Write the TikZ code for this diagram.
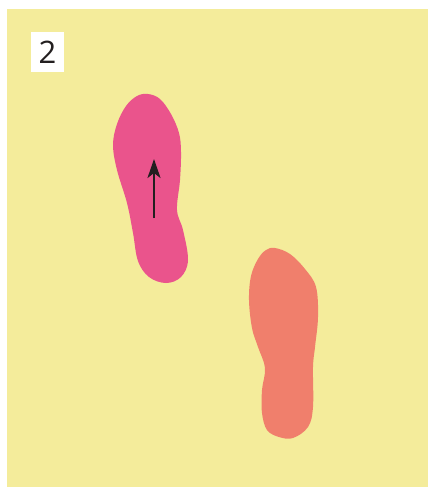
\documentclass[tikz,border=0pt]{standalone}
\usepackage{fontspec}
\setmainfont{Open Sans}
\usetikzlibrary{arrows.meta}
\definecolor{bgyellow}{HTML}{F4EC9B}
\definecolor{footpink}{HTML}{EA548C}
\definecolor{footsalmon}{HTML}{F07F6C}
\definecolor{arrowdark}{HTML}{231F20}
\tikzset{
  labelbox/.style={fill=white, minimum width=33pt, minimum height=40pt, inner sep=0pt, font=\fontsize{31}{31}\selectfont, text=arrowdark}
}
\begin{document}
\begin{tikzpicture}[x=1pt,y=1pt]
\useasboundingbox (0,0) rectangle (428,-488);
\fill[white] (0,0) rectangle (428,-488);
\fill[bgyellow] (7,-9) rectangle (428,-487);
\node[labelbox] (lab) at (47.5,-52) {2};
% left (pink) foot
\fill[footpink] plot[smooth cycle, tension=0.6] coordinates {
 (148,-94) (160,-99) (171,-114) (179,-133) (181,-152) (180,-180) (177,-210) (183,-230) (188,-260)
 (181,-277) (166,-283) (149,-277) (138,-261) (133,-233) (127,-203)
 (117,-170) (113,-145) (117,-124) (126,-106) (137,-96)};
% right (salmon) foot
\fill[footsalmon] plot[smooth cycle, tension=0.6] coordinates {
 (275,-248) (290,-254) (305,-269) (316,-287) (318,-317) (315,-347) (313,-367) (313,-407)
 (308,-427) (293,-438) (279,-437) (267,-430) (262,-413) (262,-390) (265,-368)
 (258,-347) (252,-328) (249,-300) (251,-276) (258,-259) (266,-250)};
\coordinate (tail) at (154,-218);
\coordinate (tip) at (154,-159);
\draw[arrowdark, line width=2.4pt, -{Stealth[length=19pt, width=13pt, inset=5pt]}] (tail) -- (tip);
\end{tikzpicture}
\end{document}
